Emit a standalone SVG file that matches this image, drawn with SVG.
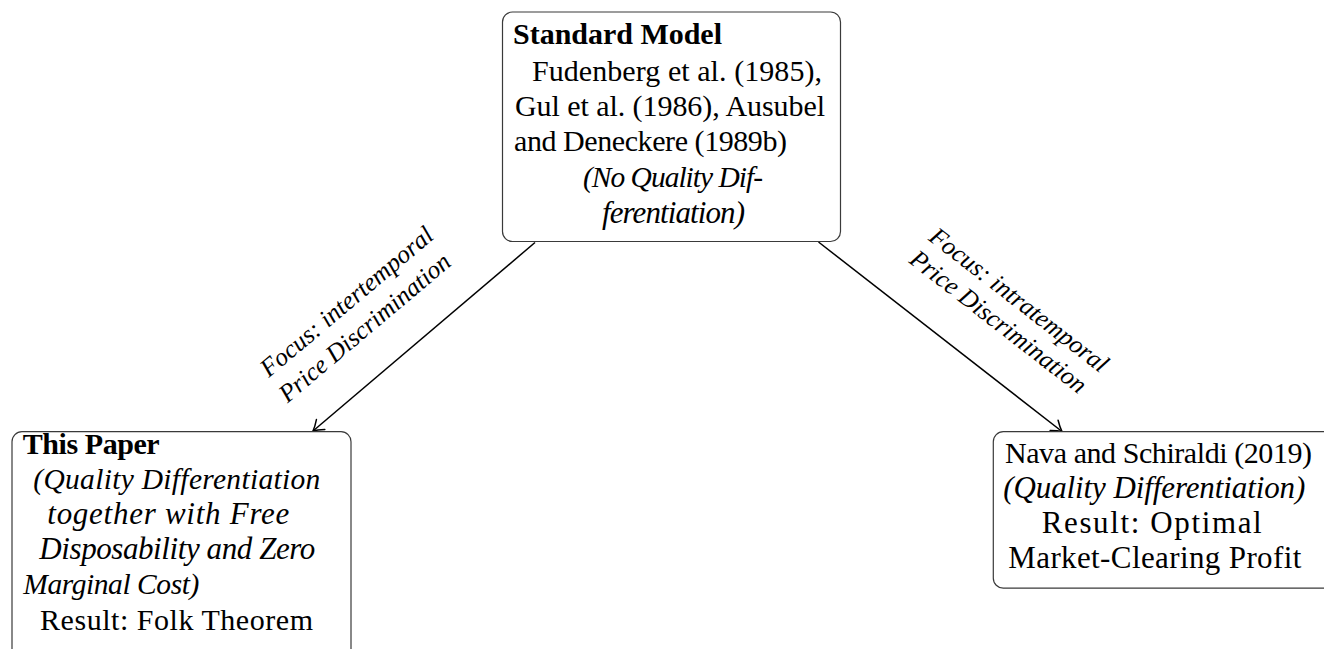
<svg xmlns="http://www.w3.org/2000/svg" width="1324" height="649" viewBox="0 0 1324 649">
<style>
.box{fill:#fff;stroke:#3a3a3a;stroke-width:1.2}
.t{font-family:"Liberation Serif","DejaVu Serif",serif;font-size:30px;fill:#000}
.b{font-weight:bold}
.i{font-style:italic;font-size:31px}
.n{font-size:29.5px}
.w{font-size:31px}
.lab{font-family:"Liberation Serif","DejaVu Serif",serif;font-size:25.5px;font-style:italic;fill:#000;text-anchor:middle}
.edge{fill:none;stroke:#000;stroke-width:1.5}
</style>
<defs>
<marker id="arr" viewBox="-12 -12 24 24" markerWidth="24" markerHeight="24" refX="0" refY="0" orient="auto" markerUnits="userSpaceOnUse">
<path d="M -10 -6.5 Q -4 -1.8 0 0 Q -4 1.8 -10 6.5" fill="none" stroke="#000" stroke-width="1.5" stroke-linecap="round"/>
</marker>
</defs>
<rect width="1324" height="649" fill="#fff"/>
<g id="connectors">
<line class="edge" x1="535" y1="242.5" x2="313" y2="431" marker-end="url(#arr)"/>
<line class="edge" x1="818.5" y1="242" x2="1062" y2="431.5" marker-end="url(#arr)"/>
<text class="lab" transform="translate(352,308) rotate(-40.1)">Focus: intertemporal</text>
<text class="lab" transform="translate(370,334) rotate(-40.1)">Price Discrimination</text>
<text class="lab" transform="translate(1014,306.5) rotate(37.8)">Focus: intratemporal</text>
<text class="lab" transform="translate(993.3,328.3) rotate(37.8)">Price Discrimination</text>
</g>
<g id="standard-model">
<rect class="box" x="502.5" y="12" width="338" height="229.5" rx="10"/>
<text class="t b" x="513" y="44.3" textLength="209" lengthAdjust="spacing">Standard Model</text>
<text class="t" x="532" y="80.5" textLength="290" lengthAdjust="spacing">Fudenberg et al. (1985),</text>
<text class="t" x="515" y="115.5" textLength="310" lengthAdjust="spacing">Gul et al. (1986), Ausubel</text>
<text class="t" x="514" y="151" textLength="273" lengthAdjust="spacing">and Deneckere (1989b)</text>
<text class="t i n" x="583" y="186.7" textLength="180" lengthAdjust="spacing">(No Quality Dif-</text>
<text class="t i" x="602" y="222.5" textLength="143" lengthAdjust="spacing">ferentiation)</text>
</g>
<g id="this-paper">
<rect class="box" x="12" y="431.7" width="339" height="240" rx="10"/>
<text class="t b" x="22.7" y="454.3" textLength="137" lengthAdjust="spacing">This Paper</text>
<text class="t i n" x="33.3" y="489" textLength="287" lengthAdjust="spacing">(Quality Differentiation</text>
<text class="t i" x="47.3" y="524" textLength="242" lengthAdjust="spacing">together with Free</text>
<text class="t i" x="39.3" y="559" textLength="276" lengthAdjust="spacing">Disposability and Zero</text>
<text class="t i n" x="23.3" y="594" textLength="176" lengthAdjust="spacing">Marginal Cost)</text>
<text class="t" x="40" y="630" textLength="273" lengthAdjust="spacing">Result: Folk Theorem</text>
</g>
<g id="nava-schiraldi">
<rect class="box" x="993.3" y="431.7" width="345" height="156.5" rx="10"/>
<text class="t" x="1005" y="463.3" textLength="307" lengthAdjust="spacing">Nava and Schiraldi (2019)</text>
<text class="t i" x="1003.3" y="498.3" textLength="302" lengthAdjust="spacing">(Quality Differentiation)</text>
<text class="t w" x="1041.7" y="533.3" textLength="220" lengthAdjust="spacing">Result: Optimal</text>
<text class="t w" x="1008.3" y="568.3" textLength="293" lengthAdjust="spacing">Market-Clearing Profit</text>
</g>
</svg>
